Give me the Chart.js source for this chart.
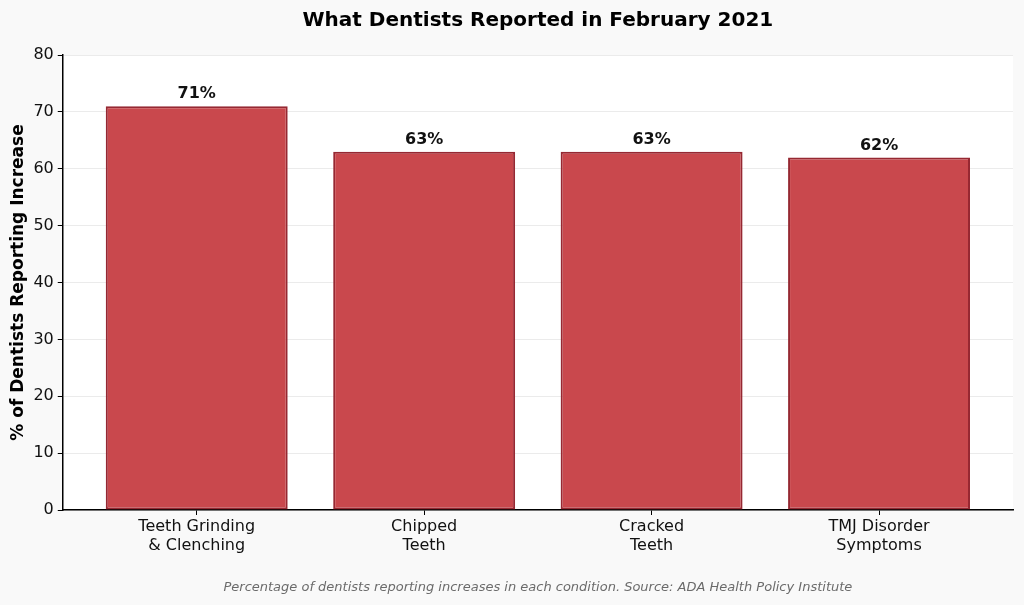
<!DOCTYPE html>
<html>
<head>
<meta charset="utf-8">
<script src="https://cdn.jsdelivr.net/npm/chart.js@4.4.0/dist/chart.umd.min.js"></script>
<style>
  html, body { margin: 0; padding: 0; background: #f9f9f9; }
  #wrap { width: 1024px; height: 605px; }
</style>
</head>
<body>
<div id="wrap"><canvas id="chart"></canvas></div>
<script>
var categories = ['Teeth Grinding\n& Clenching', 'Chipped\nTeeth', 'Cracked\nTeeth', 'TMJ Disorder\nSymptoms'];
var percentReporting = [71, 63, 63, 62];
var yTicks = [0, 10, 20, 30, 40, 50, 60, 70, 80];

var FONT = '"DejaVu Sans", sans-serif';

// paint figure + plot backgrounds like the original
var backgroundPlugin = {
  id: 'bgPaint',
  beforeDraw: function(chart){
    var ctx = chart.ctx, a = chart.chartArea;
    ctx.save();
    ctx.fillStyle = '#f9f9f9';
    ctx.fillRect(0, 0, chart.width, chart.height);
    ctx.fillStyle = '#ffffff';
    ctx.fillRect(a.left, a.top, a.right - a.left, a.bottom - a.top);
    ctx.restore();
  }
};

// percent labels above bars
var valueLabels = {
  id: 'valueLabels',
  afterDatasetsDraw: function(chart){
    var ctx = chart.ctx;
    var meta = chart.getDatasetMeta(0);
    ctx.save();
    ctx.font = 'bold 16px ' + FONT;
    ctx.fillStyle = '#111';
    ctx.textAlign = 'center';
    ctx.textBaseline = 'bottom';
    meta.data.forEach(function(bar, i){
      ctx.fillText(percentReporting[i] + '%', bar.x, bar.y - 4);
    });
    ctx.restore();
  }
};

var points = percentReporting.map(function(v, i){ return {x: i, y: v}; });

new Chart(document.getElementById('chart'), {
  type: 'bar',
  data: {
    datasets: [{
      label: '% reporting increase',
      data: points,
      backgroundColor: 'rgb(201,72,77)',
      borderColor: 'rgb(150,40,50)',
      borderWidth: 2,
      borderSkipped: false,
      barPercentage: 0.8,
      categoryPercentage: 1.0
    }]
  },
  options: {
    responsive: true,
    maintainAspectRatio: false,
    animation: false,
    layout: { padding: { left: 3, right: 11, top: 5, bottom: 6 } },
    plugins: {
      legend: { display: false },
      tooltip: { enabled: false },
      title: {
        display: true,
        text: 'What Dentists Reported in February 2021',
        fullSize: false,
        color: '#000',
        font: { family: FONT, size: 20, weight: 'bold' },
        padding: { top: 4, bottom: 22 }
      },
      subtitle: {
        display: true,
        position: 'bottom',
        fullSize: false,
        text: 'Percentage of dentists reporting increases in each condition. Source: ADA Health Policy Institute',
        color: '#6b6b6b',
        font: { family: FONT, size: 13, style: 'italic' },
        padding: { top: 22, bottom: 4 }
      }
    },
    scales: {
      x: {
        type: 'linear',
        offset: false,
        min: -0.589,
        max: 3.589,
        afterBuildTicks: function(scale){
          scale.ticks = categories.map(function(c, i){ return {value: i}; });
        },
        ticks: {
          color: '#111',
          font: { family: FONT, size: 16 },
          padding: 2,
          autoSkip: false,
          maxRotation: 0,
          callback: function(value){ return categories[value] ? categories[value].split('\n') : ''; }
        },
        grid: { display: true, offset: false, drawOnChartArea: false, tickLength: 5, tickColor: '#000', tickWidth: 1 },
        border: { display: true, color: '#000', width: 1.5 }
      },
      y: {
        min: 0,
        max: 80,
        afterBuildTicks: function(scale){
          scale.ticks = yTicks.map(function(v){ return {value: v}; });
        },
        ticks: {
          color: '#111',
          font: { family: FONT, size: 16 },
          padding: 4
        },
        grid: { color: 'rgba(0,0,0,0.08)', lineWidth: 1, tickLength: 5, tickColor: '#000', tickWidth: 1 },
        border: { display: true, color: '#000', width: 1.5 },
        title: {
          display: true,
          text: '% of Dentists Reporting Increase',
          color: '#000',
          font: { family: FONT, size: 17, weight: 'bold' },
          padding: { top: 5, bottom: 1 }
        }
      }
    }
  },
  plugins: [backgroundPlugin, valueLabels]
});
</script>
</body>
</html>
